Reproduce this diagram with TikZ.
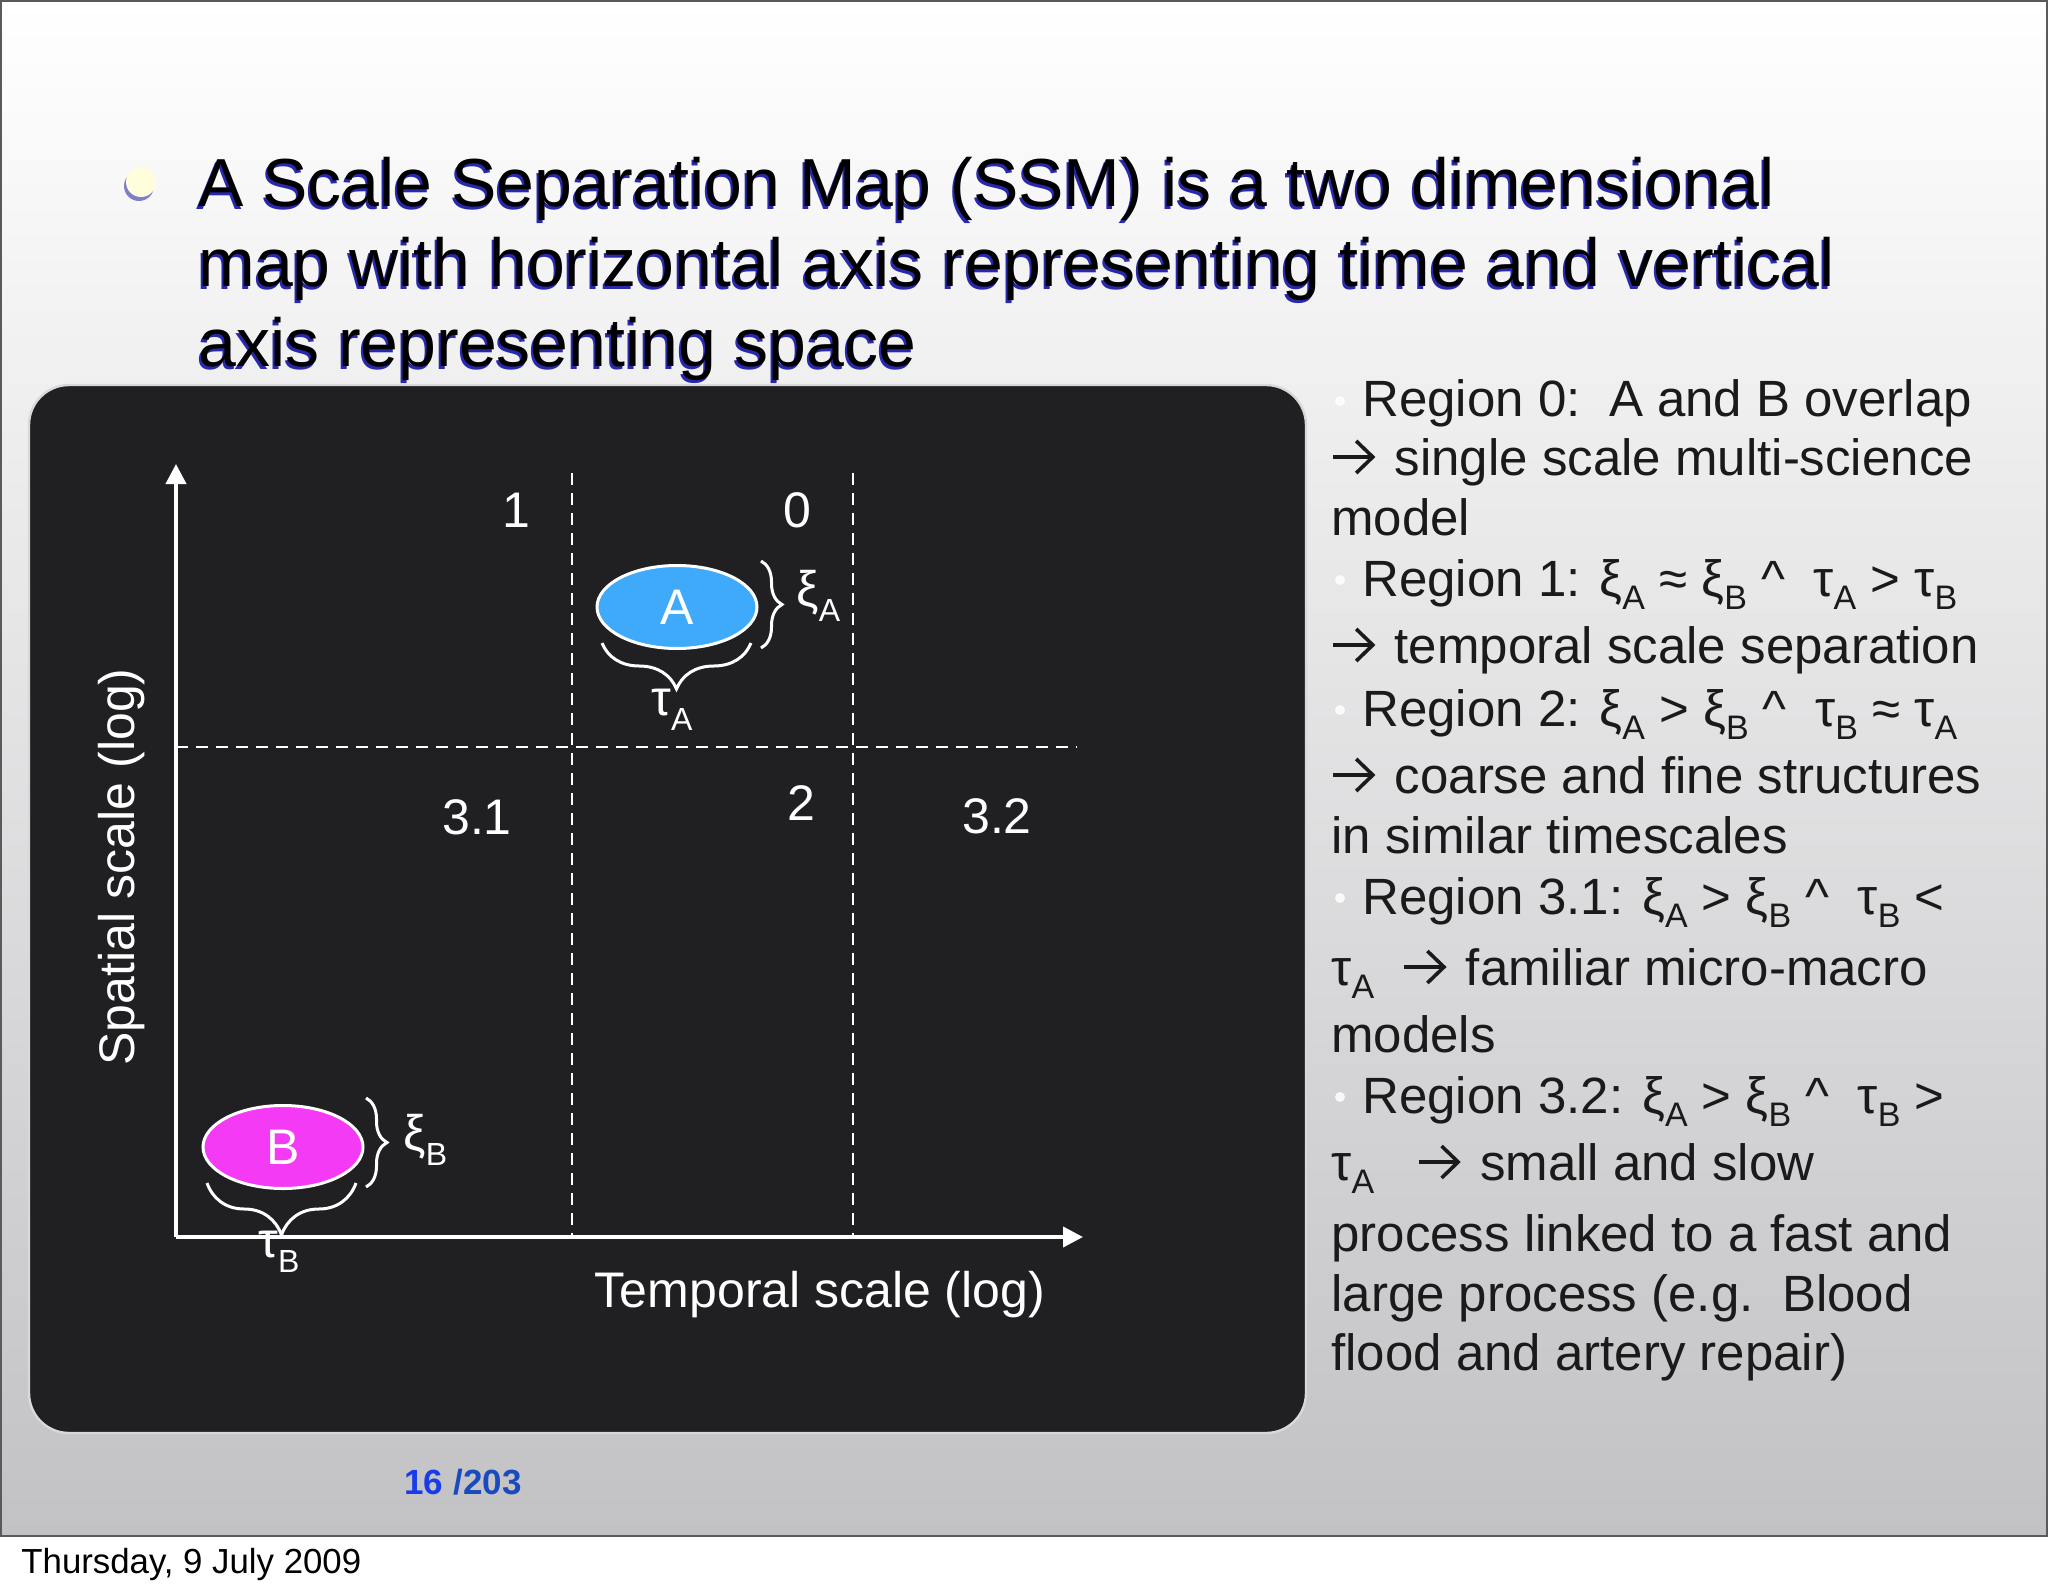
\documentclass[tikz,border=0pt]{standalone}
\usepackage{fontspec}
\setmainfont{Liberation Sans}
\usetikzlibrary{shapes.geometric,decorations.pathreplacing,arrows.meta}
\definecolor{bgbot}{RGB}{194,193,196}
\definecolor{boxbg}{RGB}{32,31,34}
\definecolor{ablue}{RGB}{64,170,250}
\definecolor{bmag}{RGB}{244,58,244}
\definecolor{shadowblue}{RGB}{40,40,170}
\definecolor{pgblue}{RGB}{25,60,235}
\definecolor{pgbluetwo}{RGB}{25,75,190}
\definecolor{bulletyellow}{RGB}{255,253,220}
\definecolor{framegray}{RGB}{90,90,90}
\definecolor{bodyink}{RGB}{26,26,26}
\newcommand\fsz[1]{\fontsize{#1}{#1}\selectfont}
\newcommand\rsub[1]{\raisebox{-6.5pt}{\fsz{17pt}#1}}
\newcommand\msub[1]{\raisebox{-7.5pt}{\fsz{16pt}#1}}
\newcommand\rarr{\tikz[baseline=0pt]{\path (0pt,0pt) -- (21pt,0pt);
  \draw[bodyink, line width=1.8pt, line cap=butt] (0.5pt,9pt) -- (20pt,9pt);
  \draw[bodyink, line width=1.8pt, line join=miter] (12pt,17pt) -- (20.3pt,9pt) -- (12pt,1pt);}\hspace{3pt}}
\begin{document}
\begin{tikzpicture}[x=0.5pt,y=-0.5pt,
  titletext/.style={anchor=base west, inner sep=0pt, font=\fsz{34pt}, text=black},
  titleshadow/.style={anchor=base west, inner sep=0pt, font=\fsz{34pt}, text=shadowblue},
  bodytext/.style={anchor=base west, inner sep=0pt, font=\fsz{25.5pt}, text=bodyink},
  maplabel/.style={inner sep=0pt, font=\fsz{25pt}, text=white},
  axisline/.style={draw=white, line width=2pt, -{Triangle[width=10pt,length=10pt]}},
  divline/.style={draw=white, line width=1.2pt, dash pattern=on 6pt off 4pt},
  bracedeco/.style={draw=white, line width=1.5pt, decorate, decoration={brace, amplitude=#1}},
  procell/.style={ellipse, draw=white, line width=1.5pt, minimum width=80pt, minimum height=41.5pt, inner sep=0pt, text=white, font=\fsz{25pt}},
  rbullet/.style={circle, fill=white, inner sep=0pt, minimum size=5pt, opacity=0.85},
]
\useasboundingbox (0,0) rectangle (2048,1593);
\fill[white] (0,0) rectangle (2048,1593);
\shade[top color=white, bottom color=bgbot] (0,0) rectangle (2048,1536);
\draw[framegray, line width=1pt] (1,1) rectangle (2047,1536);

% title
\fill[shadowblue!60] (139,186) circle[radius=7.5pt];
\fill[bulletyellow] (141,182) circle[radius=7.5pt];
\node[titleshadow] (t1s) at (196,210) {A Scale Separation Map (SSM) is a two dimensional};
\node[titleshadow] (t2s) at (196,290) {map with horizontal axis representing time and vertical};
\node[titleshadow] (t3s) at (196,370) {axis representing space};
\node[titletext] (t1) at (198,207) {A Scale Separation Map (SSM) is a two dimensional};
\node[titletext] (t2) at (198,287) {map with horizontal axis representing time and vertical};
\node[titletext] (t3) at (198,367) {axis representing space};

% black panel
\draw[draw=white!85!black, line width=1.2pt, fill=boxbg, rounded corners=20pt] (29,385) rectangle (1306,1433);

% grid
\coordinate (O) at (176,1237);
\coordinate (Ytip) at (176,464);
\coordinate (Xtip) at (1083,1237);
\coordinate (v1t) at (572,473);
\coordinate (v1b) at (572,1237);
\coordinate (v2t) at (853,473);
\coordinate (v2b) at (853,1237);
\coordinate (hl) at (176,747);
\coordinate (hr) at (1077,747);
\draw[divline] (v1t) -- (v1b);
\draw[divline] (v2t) -- (v2b);
\draw[divline] (hl) -- (hr);
\draw[axisline] (O) -- (Ytip);
\draw[axisline] (O) -- (Xtip);

% region labels
\node[maplabel, anchor=base] (r1) at (516,527) {1};
\node[maplabel, anchor=base] (r0) at (797,527) {0};
\node[maplabel, anchor=base] (r31) at (477,834) {3.1};
\node[maplabel, anchor=base] (r2) at (801,820) {2};
\node[maplabel, anchor=base] (r32) at (997,833) {3.2};

% axis titles
\node[maplabel, anchor=base, rotate=90] (ylab) at (134,867) {Spatial scale (log)};
\node[maplabel, anchor=base] (xlab) at (820,1307) {Temporal scale (log)};

% processes
\node[procell, fill=ablue] (A) at (677,607) {A};
\node[procell, fill=bmag] (B) at (283,1147) {B};

\coordinate (aR1) at (761,561);
\coordinate (aR2) at (761,648);
\coordinate (aB1) at (751,643);
\coordinate (aB2) at (602,643);
\coordinate (bR1) at (366,1098);
\coordinate (bR2) at (366,1187);
\coordinate (bB1) at (356,1183);
\coordinate (bB2) at (207,1183);
\draw[bracedeco=10.5pt] (aR1) -- (aR2);
\draw[bracedeco=23pt] (aB1) -- (aB2);
\draw[bracedeco=10.5pt] (bR1) -- (bR2);
\draw[bracedeco=26pt] (bB1) -- (bB2);

\node[maplabel, anchor=base west] (xiA) at (796,606) {ξ\msub{A}};
\node[maplabel, anchor=base west] (tauA) at (651,715) {τ\msub{A}};
\node[maplabel, anchor=base west] (xiB) at (403,1150) {ξ\msub{B}};
\node[maplabel, anchor=base west] (tauB) at (258,1257) {τ\msub{B}};

% right column
\node[rbullet] (rb1) at (1340,401) {};
\node[rbullet] (rb2) at (1340,580) {};
\node[rbullet] (rb3) at (1340,710) {};
\node[rbullet] (rb4) at (1340,898) {};
\node[rbullet] (rb5) at (1340,1097) {};
\node[bodytext] (l1) at (1362,417) {Region 0:\ \ A and B overlap};
\node[bodytext] (l2) at (1331,475) {\rarr\ single scale multi-science};
\node[bodytext] (l3) at (1331,535) {model};
\node[bodytext] (l4) at (1362,596) {Region 1: ξ\rsub{A} ≈ ξ\rsub{B} \textasciicircum\ \ τ\rsub{A} > τ\rsub{B}};
\node[bodytext] (l5) at (1331,663) {\rarr\ temporal scale separation};
\node[bodytext] (l6) at (1362,726) {Region 2: ξ\rsub{A} > ξ\rsub{B} \textasciicircum\ \ τ\rsub{B} ≈ τ\rsub{A}};
\node[bodytext] (l7) at (1331,793) {\rarr\ coarse and fine structures};
\node[bodytext] (l8) at (1331,853) {in similar timescales};
\node[bodytext] (l9) at (1362,914) {Region 3.1: ξ\rsub{A} > ξ\rsub{B} \textasciicircum\ \ τ\rsub{B} <};
\node[bodytext] (l10) at (1331,985) {τ\rsub{A}\ \ \rarr\ familiar micro-macro};
\node[bodytext] (l11) at (1331,1052) {models};
\node[bodytext] (l12) at (1362,1113) {Region 3.2: ξ\rsub{A} > ξ\rsub{B} \textasciicircum\ \ τ\rsub{B} >};
\node[bodytext] (l13) at (1331,1180) {τ\rsub{A}\ \ \ \rarr\ small and slow};
\node[bodytext] (l14) at (1331,1251) {process linked to a fast and};
\node[bodytext] (l15) at (1331,1311) {large process (e.g.\ \ Blood};
\node[bodytext] (l16) at (1331,1370) {flood and artery repair)};

% footer
\node[anchor=base west, inner sep=0pt, font=\fsz{17.5pt}\bfseries, text=pgblue] (pg) at (404,1494) {16};
\node[anchor=base west, inner sep=0pt, font=\fsz{17.5pt}\bfseries, text=pgbluetwo] (pgt) at (453,1494) {/203};
\node[anchor=base west, inner sep=0pt, font=\fsz{17.4pt}, text=black] (date) at (21,1573) {Thursday, 9 July 2009};
\end{tikzpicture}
\end{document}
